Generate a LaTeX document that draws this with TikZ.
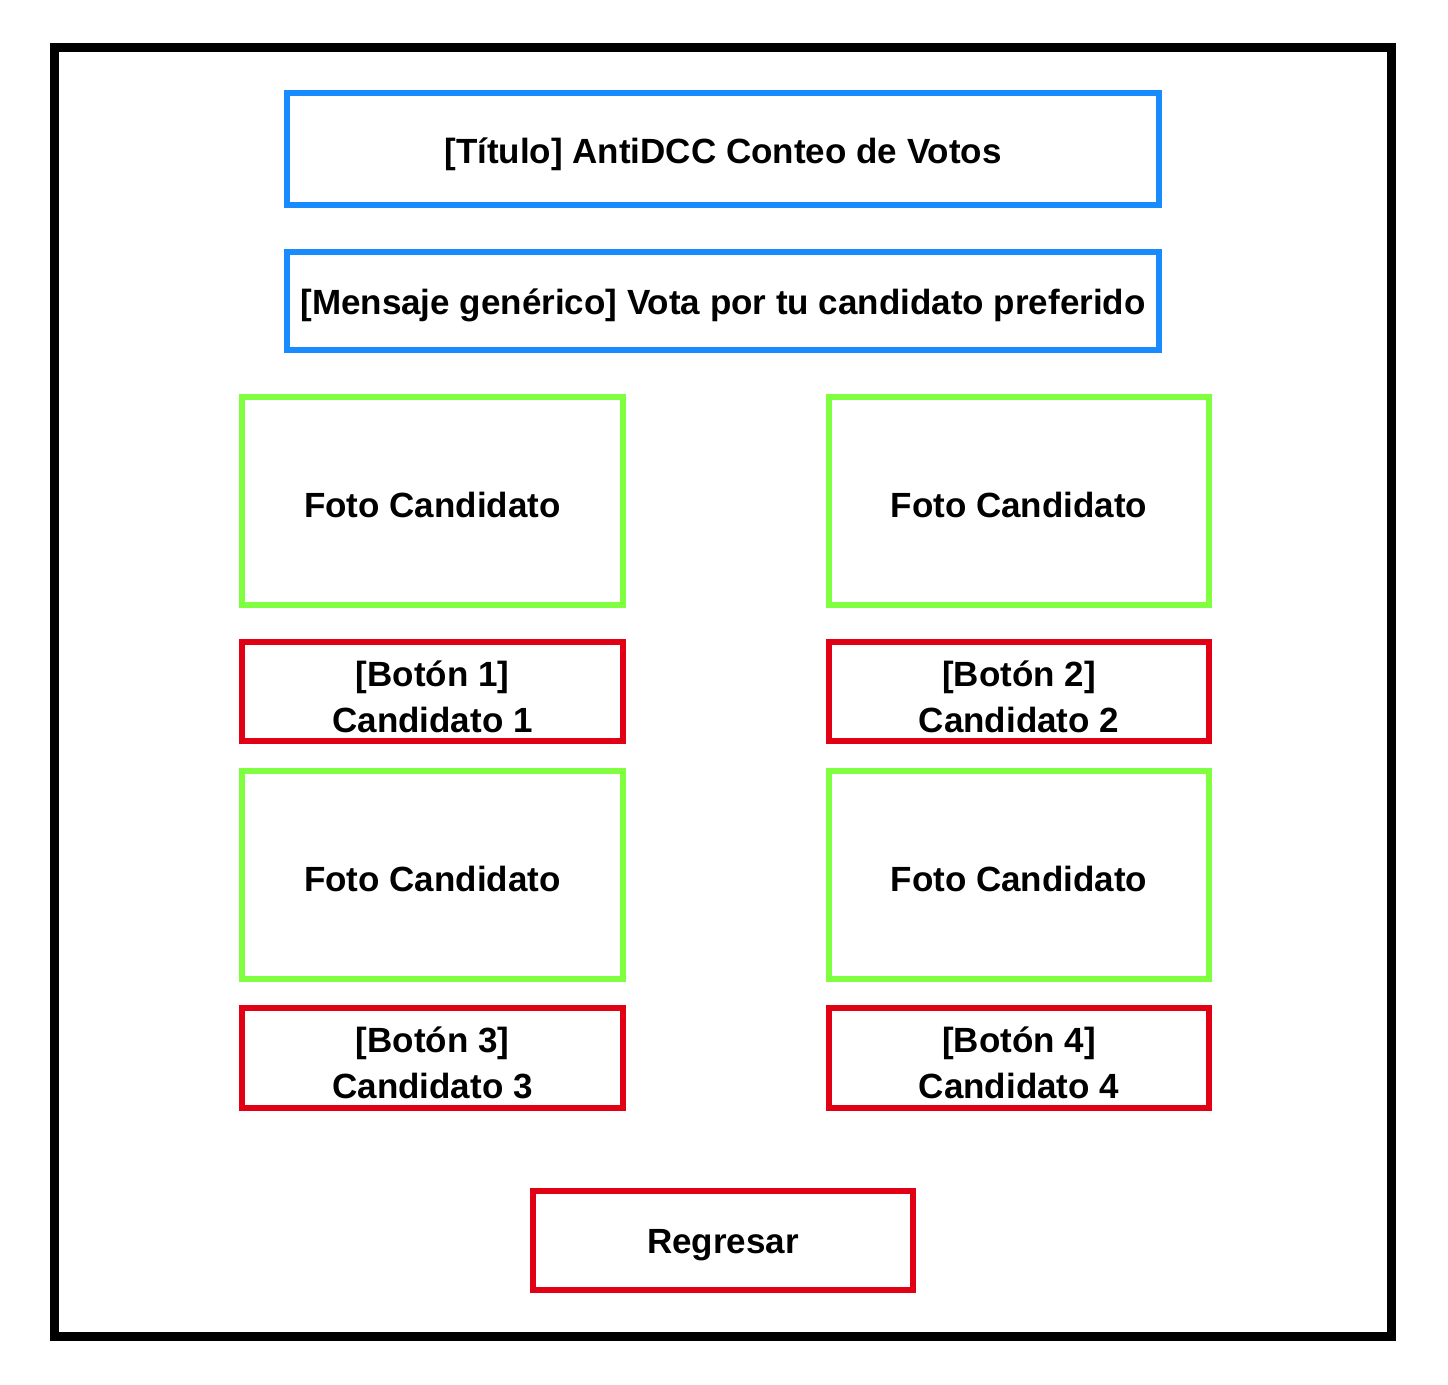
\documentclass[tikz,border=0pt]{standalone}
\usepackage{fontspec}
\setmainfont{Liberation Sans}
\begin{document}
\begin{tikzpicture}[x=1pt,y=-1pt,
  bx/.style={draw,line width=6pt,inner sep=0pt},
  bluebox/.style={bx,draw=myblue},
  greenbox/.style={bx,draw=mygreen},
  redbox/.style={bx,draw=myred},
  txt/.style={font=\bfseries\fontsize{35}{46}\selectfont,align=center,inner sep=0pt}]
\definecolor{myblue}{RGB}{24,140,255}
\definecolor{mygreen}{RGB}{128,255,64}
\definecolor{myred}{RGB}{226,0,20}
\useasboundingbox (0,0) rectangle (1448,1384);
\fill[white] (0,0) rectangle (1448,1384);
\draw[line width=9pt] (54,47) rectangle (1391,1336);
\node[bluebox,minimum width=872pt,minimum height=112pt] (title) at (723,149) {};
\node[bluebox,minimum width=872pt,minimum height=98pt] (msg) at (723,301) {};
\node[greenbox,minimum width=381pt,minimum height=208pt] (f1) at (432.5,501) {};
\node[greenbox,minimum width=380pt,minimum height=208pt] (f2) at (1019,501) {};
\node[redbox,minimum width=381pt,minimum height=99pt] (b1) at (432.5,691.5) {};
\node[redbox,minimum width=380pt,minimum height=99pt] (b2) at (1019,691.5) {};
\node[greenbox,minimum width=381pt,minimum height=208pt] (f3) at (432.5,875) {};
\node[greenbox,minimum width=380pt,minimum height=208pt] (f4) at (1019,875) {};
\node[redbox,minimum width=381pt,minimum height=100pt] (b3) at (432.5,1058) {};
\node[redbox,minimum width=380pt,minimum height=100pt] (b4) at (1019,1058) {};
\node[redbox,minimum width=380pt,minimum height=99pt] (back) at (723,1240.5) {};
\node[txt] (ttitle) at ([yshift=-5pt]title.center) {[Título] AntiDCC Conteo de Votos};
\node[txt] (tmsg) at ([yshift=-4pt]msg.center) {[Mensaje genérico] Vota por tu candidato preferido};
\node[txt] (tf1) at ([yshift=-4pt]f1.center) {Foto Candidato};
\node[txt] (tf2) at ([yshift=-4pt]f2.center) {Foto Candidato};
\node[txt] (tf3) at ([yshift=-4pt]f3.center) {Foto Candidato};
\node[txt] (tf4) at ([yshift=-4pt]f4.center) {Foto Candidato};
\node[txt] (tb1) at ([yshift=-5pt]b1.center) {[Botón 1]\\Candidato 1};
\node[txt] (tb2) at ([yshift=-5pt]b2.center) {[Botón 2]\\Candidato 2};
\node[txt] (tb3) at ([yshift=-5pt]b3.center) {[Botón 3]\\Candidato 3};
\node[txt] (tb4) at ([yshift=-5pt]b4.center) {[Botón 4]\\Candidato 4};
\node[txt] (tback) at ([yshift=-5pt]back.center) {Regresar};
\end{tikzpicture}
\end{document}
